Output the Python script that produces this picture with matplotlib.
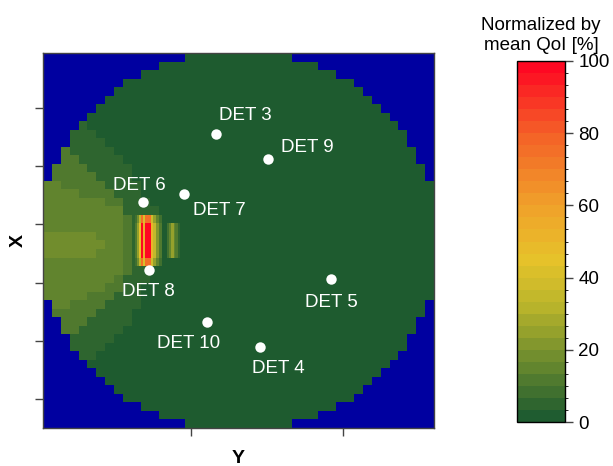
import numpy as np
import matplotlib
matplotlib.use("Agg")
import matplotlib.pyplot as plt
from matplotlib.colors import LinearSegmentedColormap, BoundaryNorm

plt.rcParams["font.family"] = ["Liberation Sans", "DejaVu Sans"]

# ==========================
# data (grid 44 x 44, rows from top)
# ==========================
n_cells = 44

# half width of the core (cells each side of centre) for rows 0..21, mirrored below
row_halfwidth = [6, 9, 11, 13, 14, 15, 16, 17, 18, 19, 19,
                 20, 20, 21, 21, 22, 22, 22, 22, 22, 22, 22]

interior_level = 1.5

# left wedge: value, first row, last column reached in each row
band_levels = [5.0, 11.5, 15.0, 18.0]
band_first_row = [8, 10, 14, 21]
band_last_col = [
    [4, 5, 6, 7, 8, 9, 9, 10, 10, 11, 12, 12, 12, 12, 12, 12, 12,
     11, 11, 10, 10, 10, 9, 9, 8, 7, 6, 5, 4],
    [1, 2, 3, 4, 5, 6, 7, 8, 8, 9, 9, 9, 9, 9, 9, 9, 8, 8, 7, 6, 5, 4, 3, 2, 1],
    [0, 1, 3, 6, 8, 8, 8, 8, 8, 8, 8, 8, 7, 6, 4, 2, 0],
    [5, 6, 5],
]

# hot streak (fine resolution)
streak_x_edges = [10.35, 10.58, 10.86, 11.03, 11.31, 11.48, 12.12, 12.41, 12.72, 13.05, 13.39]
streak_profile = [10, 25, 45, 100, 55, 100, 50, 35, 20, 10]
streak_y_edges = [19, 20, 24, 25]
streak_row_scale = [0.75, 1.0, 0.75]

weak_x_edges = [13.95, 14.2, 14.4, 14.7, 14.88, 15.16, 15.42]
weak_profile = [8, 16, 24, 16, 10, 6]
weak_y_edges = [20, 24]

# detectors: name, column, row, label column, label row
det_names = ["DET 3", "DET 9", "DET 6", "DET 7", "DET 8", "DET 5", "DET 10", "DET 4"]
det_x = [19.47, 25.32, 11.25, 15.87, 11.93, 32.41, 18.46, 24.42]
det_y = [9.51, 12.44, 17.49, 16.55, 25.47, 26.53, 31.57, 34.51]
lab_x = [19.81, 26.78, 7.88, 16.88, 8.89, 29.48, 12.83, 23.52]
lab_y = [7.28, 11.03, 15.49, 18.43, 27.93, 29.23, 34.04, 36.97]

x_ticks = [16.65, 33.76]
y_ticks = [6.46, 13.26, 20.07, 26.99, 33.8, 40.6]

# ==========================
# build field
# ==========================
field = np.full((n_cells, n_cells), np.nan)
half = row_halfwidth + row_halfwidth[::-1]
for r in range(n_cells):
    c0 = n_cells // 2 - half[r]
    c1 = n_cells // 2 + half[r]
    field[r, c0:c1] = interior_level

for lev, r0, cols in zip(band_levels, band_first_row, band_last_col):
    for k, last in enumerate(cols):
        r = r0 + k
        seg = field[r, :last + 1]
        seg[~np.isnan(seg)] = lev

# ==========================
# colormap
# ==========================
cmap_base = LinearSegmentedColormap.from_list(
    "qoi",
    [(0.0, "#175730"), (0.167, "#6b8a2e"), (0.33, "#bdb62b"), (0.45, "#e6c22a"),
     (0.6, "#f0a02a"), (0.8, "#f46027"), (1.0, "#ff0022")])
bounds = np.linspace(0, 100, 31)
centers = (bounds[:-1] + bounds[1:]) / 200
cmap = LinearSegmentedColormap.from_list("qoi_d", cmap_base(centers), N=30)
cmap.set_bad("#0000a0")
norm = BoundaryNorm(bounds, cmap.N)

# ==========================
# plot
# ==========================
fig = plt.figure(figsize=(6.13, 4.66), dpi=100)
ax = fig.add_axes([0.0701, 0.0815, 0.6378, 0.8047])

im = ax.imshow(field, cmap=cmap, norm=norm, extent=(0, n_cells, n_cells, 0),
               aspect="auto", interpolation="nearest")

streak = np.outer(streak_row_scale, streak_profile)
ax.pcolormesh(streak_x_edges, streak_y_edges, streak, cmap=cmap, norm=norm)
ax.pcolormesh(weak_x_edges, weak_y_edges, np.array([weak_profile]), cmap=cmap, norm=norm)

ax.plot(det_x, det_y, "o", color="white", markersize=7.5, markeredgewidth=0)
for name, tx, ty in zip(det_names, lab_x, lab_y):
    ax.text(tx, ty, name, color="white", fontsize=13.5, ha="left", va="center")

ax.set_xlim(0, n_cells)
ax.set_ylim(n_cells, 0)
ax.set_xticks(x_ticks)
ax.set_yticks(y_ticks)
ax.set_xticklabels([])
ax.set_yticklabels([])
ax.tick_params(length=6, width=1, color="#444444")
for s in ax.spines.values():
    s.set_color("#444444")
    s.set_linewidth(1)

ax.set_xlabel("Y", fontsize=14, fontweight="bold", labelpad=6)
ax.set_ylabel("X", fontsize=14, fontweight="bold", labelpad=2)

cax = fig.add_axes([0.8434, 0.0944, 0.0783, 0.7747])
cb = fig.colorbar(im, cax=cax, ticks=[0, 20, 40, 60, 80, 100])
cb.ax.tick_params(labelsize=13.5, length=6, width=1, color="#444444")
cb.outline.set_linewidth(1)
cax.set_title("Normalized by\nmean QoI [%]", fontsize=13.5, pad=8)

plt.savefig("out.png", dpi=100)
